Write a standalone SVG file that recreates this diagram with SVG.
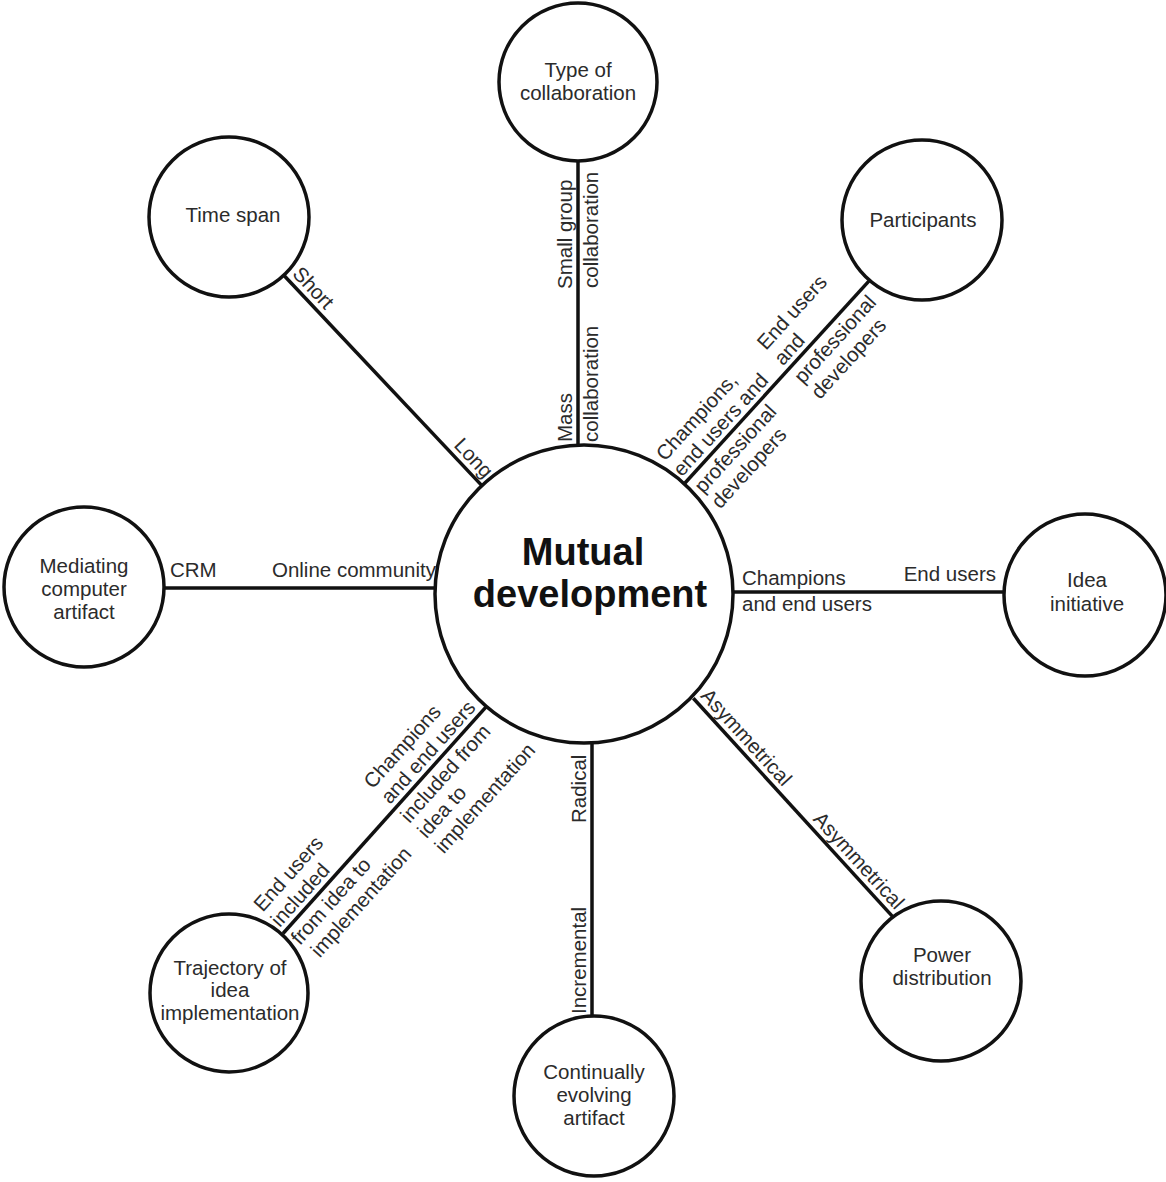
<svg xmlns="http://www.w3.org/2000/svg" width="1166" height="1182" viewBox="0 0 1166 1182">
  <style>
    .bg { fill: #ffffff; }
    .node circle { fill: #ffffff; stroke: #111111; stroke-width: 3.5; }
    .edge line { stroke: #111111; stroke-width: 3.5; stroke-linecap: butt; }
    text { font-family: "Liberation Sans", Arial, Helvetica, sans-serif; font-size: 20.5px; fill: #2b2b2b; }
    .ctr { text-anchor: middle; }
    .end { text-anchor: end; }
    .title { font-size: 38px; font-weight: bold; fill: #111111; }
  </style>

  <rect class="bg" x="0" y="0" width="1166" height="1182"/>

  <!-- connectors: each drawn in a frame whose x axis follows the line -->
  <g id="connectors">
    <!-- Type of collaboration -->
    <g class="edge" transform="translate(578,444) rotate(-90)">
      <line x1="0" y1="0" x2="284" y2="0"/>
      <text x="2" y="-6">Mass</text>
      <text x="2" y="20">collaboration</text>
      <text x="155" y="-6">Small group</text>
      <text x="156" y="20">collaboration</text>
    </g>

    <!-- Time span -->
    <g class="edge" transform="translate(283.8,275.2) rotate(46.73)">
      <line x1="0" y1="0" x2="289" y2="0"/>
      <text x="5" y="-6">Short</text>
      <text class="end" x="286" y="-6">Long</text>
    </g>

    <!-- Participants -->
    <g class="edge" transform="translate(685,483) rotate(-47.67)">
      <line x1="0" y1="0" x2="273" y2="0"/>
      <text x="2" y="-29">Champions,</text>
      <text x="2" y="-6">end users and</text>
      <text x="4" y="21">professional</text>
      <text x="4" y="44">developers</text>
      <text x="152" y="-29">End users</text>
      <text x="152" y="-6">and</text>
      <text x="152" y="21">professional</text>
      <text x="152" y="44">developers</text>
    </g>

    <!-- Mediating computer artifact -->
    <g class="edge">
      <line x1="164" y1="588" x2="435" y2="588"/>
      <text x="170" y="577">CRM</text>
      <text class="end" x="436" y="577">Online community</text>
    </g>

    <!-- Idea initiative -->
    <g class="edge">
      <line x1="733" y1="592" x2="1004" y2="592"/>
      <text x="742" y="585">Champions</text>
      <text x="742" y="611">and end users</text>
      <text class="end" x="996" y="581">End users</text>
    </g>

    <!-- Power distribution -->
    <g class="edge" transform="translate(693.3,698.3) rotate(47.6)">
      <line x1="0" y1="0" x2="296" y2="0"/>
      <text x="3" y="-6">Asymmetrical</text>
      <text class="end" x="293" y="-6">Asymmetrical</text>
    </g>

    <!-- Continually evolving artifact -->
    <g class="edge" transform="translate(592,1016) rotate(-90)">
      <line x1="0" y1="0" x2="273" y2="0"/>
      <text x="2" y="-6">Incremental</text>
      <text x="193" y="-6">Radical</text>
    </g>

    <!-- Trajectory of idea implementation -->
    <g class="edge" transform="translate(283,933.5) rotate(-48.14)">
      <line x1="0" y1="0" x2="304" y2="0"/>
      <text x="2" y="-29">End users</text>
      <text x="2" y="-6">included</text>
      <text x="2" y="21">from idea to</text>
      <text x="6" y="44">implementation</text>
      <text x="167" y="-29">Champions</text>
      <text x="167" y="-6">and end users</text>
      <text x="166" y="21">included from</text>
      <text x="166" y="44">idea to</text>
      <text x="166" y="67">implementation</text>
    </g>
  </g>

  <!-- nodes -->
  <g id="node-mutual-development" class="node">
    <circle cx="584" cy="594" r="149"/>
    <text class="ctr title" x="583" y="565">Mutual</text>
    <text class="ctr title" x="590" y="607">development</text>
  </g>

  <g id="node-type-of-collaboration" class="node">
    <circle cx="578" cy="82" r="79"/>
    <text class="ctr" x="578" y="77">Type of</text>
    <text class="ctr" x="578" y="100">collaboration</text>
  </g>

  <g id="node-time-span" class="node">
    <circle cx="229" cy="217" r="80"/>
    <text class="ctr" x="233" y="222">Time span</text>
  </g>

  <g id="node-participants" class="node">
    <circle cx="922" cy="220" r="80"/>
    <text class="ctr" x="923" y="227">Participants</text>
  </g>

  <g id="node-mediating-computer-artifact" class="node">
    <circle cx="84" cy="587" r="80"/>
    <text class="ctr" x="84" y="573">Mediating</text>
    <text class="ctr" x="84" y="596">computer</text>
    <text class="ctr" x="84" y="619">artifact</text>
  </g>

  <g id="node-idea-initiative" class="node">
    <circle cx="1085" cy="595" r="81"/>
    <text class="ctr" x="1087" y="587">Idea</text>
    <text class="ctr" x="1087" y="611">initiative</text>
  </g>

  <g id="node-power-distribution" class="node">
    <circle cx="941" cy="981" r="80"/>
    <text class="ctr" x="942" y="962">Power</text>
    <text class="ctr" x="942" y="985">distribution</text>
  </g>

  <g id="node-continually-evolving-artifact" class="node">
    <circle cx="594" cy="1096" r="80"/>
    <text class="ctr" x="594" y="1079">Continually</text>
    <text class="ctr" x="594" y="1102">evolving</text>
    <text class="ctr" x="594" y="1125">artifact</text>
  </g>

  <g id="node-trajectory-of-idea-implementation" class="node">
    <circle cx="229" cy="993" r="79"/>
    <text class="ctr" x="230" y="975">Trajectory of</text>
    <text class="ctr" x="230" y="997">idea</text>
    <text class="ctr" x="230" y="1020">implementation</text>
  </g>
</svg>
